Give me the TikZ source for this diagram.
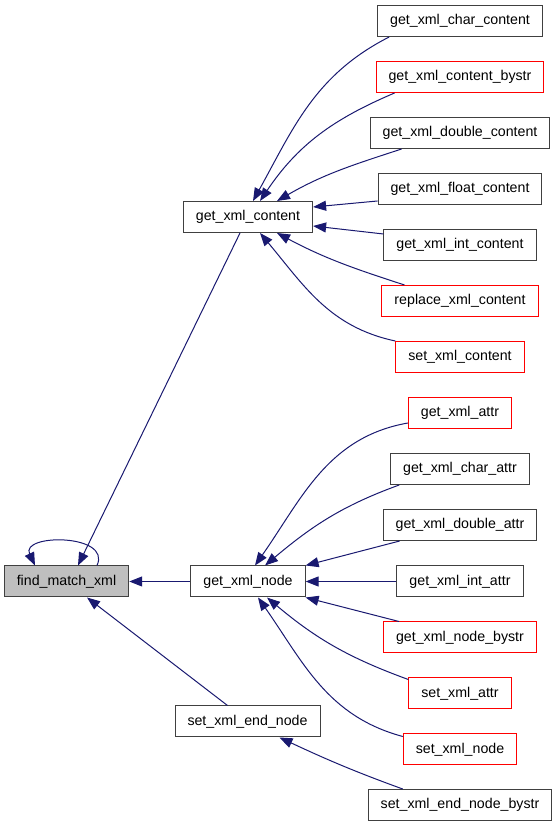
\documentclass[tikz,border=0pt]{standalone}
\usepackage{fontspec}
\setmainfont{Liberation Sans}
\usetikzlibrary{arrows.meta}
\definecolor{edgeblue}{RGB}{25,25,112}
\definecolor{boxgray}{RGB}{191,191,191}
\definecolor{linegray}{RGB}{64,64,64}

\begin{document}
\begin{tikzpicture}[x=1pt, y=1pt, >={Triangle[length=13pt,width=10pt]},
  fn/.style={draw=linegray, line width=1pt, fill=white, minimum height=31pt, inner xsep=12.5pt, font=\fontsize{14.2}{16}\selectfont},
  call/.style={edgeblue, line width=1pt, ->}]
\useasboundingbox (0,0) rectangle (557,827);
% left side
\node[fn, fill=boxgray] (find) at (66.5,245.5) {find\_match\_xml};
\node[fn] (cont) at (248,610) {get\_xml\_content};
\node[fn] (xnode) at (248,245.5) {get\_xml\_node};
\node[fn] (endn) at (247.5,105.5) {set\_xml\_end\_node};
% right column
\foreach \n/\c/\y/\t in {charc/linegray/806/get\_xml\_char\_content,
  bystr/red/750/get\_xml\_content\_bystr,
  dblc/linegray/694/get\_xml\_double\_content,
  fltc/linegray/638/get\_xml\_float\_content,
  intc/linegray/582/get\_xml\_int\_content,
  replc/red/526/replace\_xml\_content,
  setc/red/470/set\_xml\_content,
  gattr/red/414/get\_xml\_attr,
  cattr/linegray/358/get\_xml\_char\_attr,
  dattr/linegray/302/get\_xml\_double\_attr,
  iattr/linegray/245.5/get\_xml\_int\_attr,
  nbystr/red/189.5/get\_xml\_node\_bystr,
  sattr/red/133.5/set\_xml\_attr,
  snode/red/77.5/set\_xml\_node,
  ebystr/linegray/22/set\_xml\_end\_node\_bystr} {
 \node[fn, draw=\c] (\n) at (460,\y) {\t};
}
% callers of get_xml_content
\draw[call] ([xshift=12]charc.south west) to[out=207,in=61] ([xshift=5]cont.north);
\draw[call] ([xshift=19]bystr.south west) to[out=203,in=56] ([xshift=12]cont.north);
\draw[call] ([xshift=32]dblc.south west) to[out=198,in=30] ([xshift=29]cont.north);
\draw[call] ([yshift=4]fltc.south west) -- ([yshift=10]cont.east);
\draw[call] ([yshift=-5]intc.north west) -- ([yshift=-9]cont.east);
\draw[call] ([xshift=23]replc.north west) to[out=162,in=-28] ([xshift=29]cont.south);
\draw[call] (setc.north west) to[out=168,in=-50] ([xshift=12]cont.south);
% callers of get_xml_node
\draw[call] ([yshift=-10]gattr.west) to[out=190,in=55] ([xshift=7]xnode.north);
\draw[call] ([xshift=9]cattr.south west) to[out=200,in=40] ([xshift=17]xnode.north);
\draw[call] ([xshift=17]dattr.south west) -- (xnode.north east);
\draw[call] (iattr.west) -- (xnode.east);
\draw[call] ([xshift=16]nbystr.north west) -- (xnode.south east);
\draw[call] ([yshift=-2]sattr.north west) to[out=160,in=-40] ([xshift=19]xnode.south);
\draw[call] ([yshift=-3]snode.north west) to[out=165,in=-55] ([xshift=10]xnode.south);
\draw[call] ([xshift=35]ebystr.north west) to[out=160,in=-25] ([xshift=32]endn.south);
% callers of find_match_xml
\draw[call] ([xshift=-8]cont.south) -- ([xshift=11.5]find.north);
\draw[call] (xnode.west) -- (find.east);
\draw[call] ([xshift=-20]endn.north) -- ([xshift=20.5]find.south);
\draw[call] ([xshift=30.5]find.north) .. controls +(15,32) and +(-15,32) .. ([xshift=-31.5]find.north);
\end{tikzpicture}
\end{document}
